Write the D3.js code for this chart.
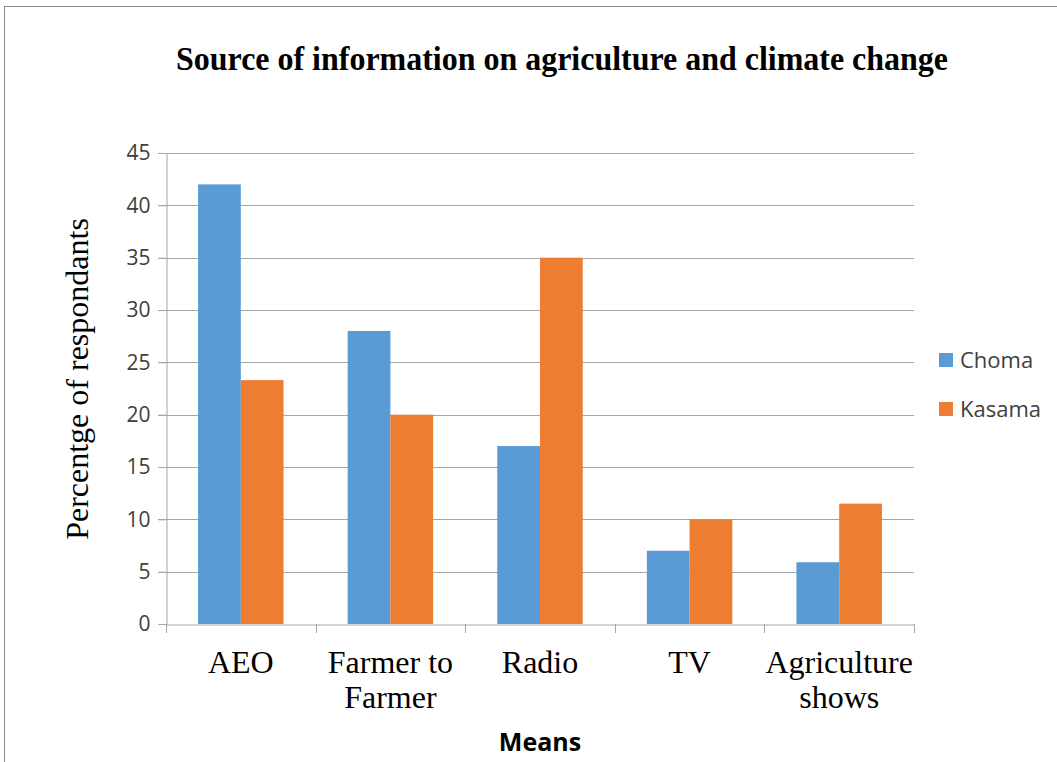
<!DOCTYPE html>
<html>
<head>
<meta charset="utf-8">
<script src="https://cdn.jsdelivr.net/npm/d3@7"></script>
<style>
  html, body { margin: 0; padding: 0; background: #fff; }
  svg { display: block; }
</style>
</head>
<body>
<svg id="chart" width="1057" height="762"></svg>
<script>
// Survey data: share of respondents citing each source, by district
const categories = ["AEO", "Farmer to Farmer", "Radio", "TV", "Agriculture shows"];
const categoryLines = [["AEO"], ["Farmer to", "Farmer"], ["Radio"], ["TV"], ["Agriculture", "shows"]];
const seriesNames = ["Choma", "Kasama"];
const chomaValues = [42, 28, 17, 7, 5.9];
const kasamaValues = [23.3, 20, 35, 10, 11.5];
const yTicks = [0, 5, 10, 15, 20, 25, 30, 35, 40, 45];
const colors = ["#5B9BD5", "#ED7D31"];

const rows = categories.map((c, i) => ({ category: c, lines: categoryLines[i], values: [chomaValues[i], kasamaValues[i]] }));

const svg = d3.select("#chart");
const serif = "'Liberation Serif', 'Times New Roman', serif";
const sans = "'Open Sans', 'Liberation Sans', sans-serif";

// chart frame
svg.append("rect")
  .attr("x", 4.5).attr("y", 6.5).attr("width", 1100).attr("height", 800)
  .attr("fill", "none").attr("stroke", "#8c8c8c").attr("stroke-width", 1);

const plot = { left: 166, right: 914, top: 153, bottom: 624 };

const x = d3.scaleBand().domain(categories).range([plot.left, plot.right]).paddingInner(0).paddingOuter(0);
const xInner = d3.scaleBand().domain(seriesNames).range([0, x.bandwidth()]).paddingInner(0).paddingOuter(0.75);
const y = d3.scaleLinear().domain([0, 45]).range([plot.bottom, plot.top]);

// horizontal gridlines
svg.append("g")
  .selectAll("line")
  .data(yTicks.filter(t => t > 0))
  .join("line")
  .attr("x1", plot.left - 8).attr("x2", plot.right)
  .attr("y1", d => Math.round(y(d)) + 0.5).attr("y2", d => Math.round(y(d)) + 0.5)
  .attr("stroke", "#a6a6a6").attr("stroke-width", 1);

// y axis
const yAxis = svg.append("g")
  .attr("transform", `translate(${plot.left + 0.5},0)`)
  .call(d3.axisLeft(y).tickValues(yTicks).tickSize(8).tickPadding(8).tickFormat(d3.format("d")));
yAxis.select(".domain").attr("stroke", "#a6a6a6");
yAxis.selectAll(".tick line").attr("stroke", "#a6a6a6");
yAxis.selectAll(".tick text")
  .attr("font-family", sans).attr("font-size", 21).attr("fill", "#404040");

// bars
svg.append("g")
  .selectAll("g")
  .data(rows)
  .join("g")
  .attr("transform", d => `translate(${x(d.category)},0)`)
  .selectAll("rect")
  .data(d => d.values.map((v, i) => ({ series: seriesNames[i], value: v, i })))
  .join("rect")
  .attr("x", d => xInner(d.series))
  .attr("width", xInner.bandwidth())
  .attr("y", d => y(d.value))
  .attr("height", d => y(0) - y(d.value))
  .attr("fill", d => colors[d.i]);

// x axis
const xAxis = svg.append("g")
  .attr("transform", `translate(0,${plot.bottom + 0.5})`)
  .call(d3.axisBottom(x).tickSize(0).tickFormat(""));
xAxis.select(".domain").attr("stroke", "#a6a6a6");
xAxis.selectAll(".tick").remove();

// category boundary ticks
const boundaries = categories.map(c => x(c)).concat([plot.right]);
svg.append("g")
  .selectAll("line")
  .data(boundaries)
  .join("line")
  .attr("x1", d => Math.round(d) + 0.5).attr("x2", d => Math.round(d) + 0.5)
  .attr("y1", plot.bottom).attr("y2", plot.bottom + 9)
  .attr("stroke", "#a6a6a6");

// category labels
const catLabels = svg.append("g")
  .selectAll("text")
  .data(rows)
  .join("text")
  .attr("x", d => x(d.category) + x.bandwidth() / 2)
  .attr("y", 673)
  .attr("text-anchor", "middle")
  .attr("font-family", serif).attr("font-size", 32).attr("fill", "#000");
catLabels.selectAll("tspan")
  .data(d => d.lines)
  .join("tspan")
  .attr("x", function () { return d3.select(this.parentNode).attr("x"); })
  .attr("dy", (d, i) => i === 0 ? 0 : 35)
  .text(d => d);

// axis titles
svg.append("text")
  .attr("x", 540).attr("y", 751)
  .attr("text-anchor", "middle")
  .attr("font-family", sans).attr("font-weight", "bold").attr("font-size", 25).attr("fill", "#000")
  .text("Means");

svg.append("text")
  .attr("transform", "translate(88,379) rotate(-90)")
  .attr("text-anchor", "middle")
  .attr("font-family", serif).attr("font-size", 32).attr("fill", "#000")
  .text("Percentge of respondants");

// title
svg.append("text")
  .attr("x", 562).attr("y", 70)
  .attr("text-anchor", "middle")
  .attr("font-family", serif).attr("font-weight", "bold").attr("font-size", 34).attr("fill", "#000")
  .attr("textLength", 772).attr("lengthAdjust", "spacingAndGlyphs")
  .text("Source of information on agriculture and climate change");

// legend
const legend = svg.append("g")
  .selectAll("g")
  .data(seriesNames)
  .join("g")
  .attr("transform", (d, i) => `translate(939,${353 + i * 49})`);
legend.append("rect").attr("width", 14).attr("height", 14).attr("fill", (d, i) => colors[i]);
legend.append("text")
  .attr("x", 21).attr("y", 7).attr("dy", "0.35em")
  .attr("font-family", sans).attr("font-size", 22).attr("fill", "#404040")
  .text(d => d);
</script>
</body>
</html>
